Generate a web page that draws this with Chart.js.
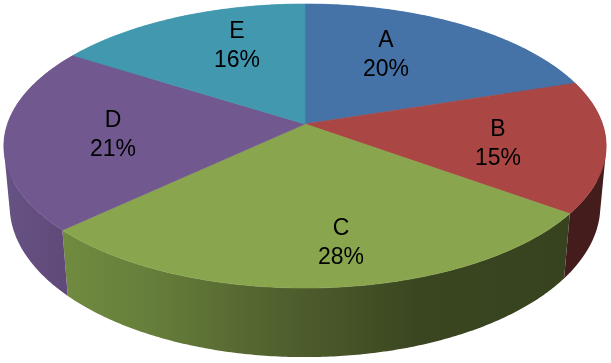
<!DOCTYPE html>
<html>
<head>
<meta charset="utf-8">
<script src="https://cdn.jsdelivr.net/npm/chart.js@4"></script>
<style>
body{margin:0;background:#fff;}
canvas{display:block;}
</style>
</head>
<body>
<canvas id="myChart" width="611" height="363"></canvas>
<script>
const categories = ["A","B","C","D","E"];
const values = [20,15,28,21,16];
const topColors = ["#4572a7","#aa4643","#89a54e","#71588f","#4198af"];

// where each label sits, in pixels of the picture
const labelSpots = [[386,55],[498,144],[341,243],[113,135],[237,46]];

// perspective of the pie, top face and bottom edge
const topRing = {cx:305,cy:124,a:297.5,b:138.6,k:0.155};
const bottomRing = {cx:305,cy:183,a:292,b:148,k:0.15};

function project(ring,angle){
    // chart.js angles start at 3 o'clock, the ring is a tilted circle
    const x = Math.cos(angle);
    const y = -Math.sin(angle);
    const w = 1 + ring.k*y;
    return [ring.cx + ring.a*x/w, ring.cy - ring.b*y/w];
}

function arcPoints(ring,start,end){
    const pts = [];
    const steps = Math.ceil((end-start)/0.01);
    for(let i=0;i<=steps;i++){
        pts.push(project(ring,start+(end-start)*i/steps));
    }
    return pts;
}

function wallFill(ctx,i){
    if(i===1) return "#431c1b";
    if(i===3){
        const g = ctx.createLinearGradient(5,0,70,0);
        g.addColorStop(0,"#675285");
        g.addColorStop(1,"#5e4978");
        return g;
    }
    if(i===2){
        const g = ctx.createLinearGradient(65,0,570,0);
        g.addColorStop(0,"#708b40");
        g.addColorStop(0.17,"#667e3a");
        g.addColorStop(0.27,"#5e7236");
        g.addColorStop(0.47,"#4d5c2c");
        g.addColorStop(0.7,"#3a4620");
        g.addColorStop(1,"#37431f");
        return g;
    }
    return topColors[i];
}

// signed area, so every quad of a wall can wind the same way
function area(q){
    let s = 0;
    q.forEach((p,n)=>{
        const r = q[(n+1)%q.length];
        s += p[0]*r[1]-r[0]*p[1];
    });
    return s;
}

const pie3d = {
    id:"pie3d",
    beforeDatasetDraw(chart){
        const ctx = chart.ctx;
        const arcs = chart.getDatasetMeta(0).data;
        // side walls first, the top face covers the hidden ones
        arcs.forEach((arc,i)=>{
            const upper = arcPoints(topRing,arc.startAngle,arc.endAngle);
            const lower = arcPoints(bottomRing,arc.startAngle,arc.endAngle);
            ctx.beginPath();
            for(let n=0;n<upper.length-1;n++){
                let q = [upper[n],upper[n+1],lower[n+1],lower[n]];
                if(area(q)<0) q = q.reverse();
                q.forEach((p,m)=> m ? ctx.lineTo(p[0],p[1]) : ctx.moveTo(p[0],p[1]));
                ctx.closePath();
            }
            ctx.fillStyle = wallFill(ctx,i);
            ctx.fill();
        });
        arcs.forEach((arc,i)=>{
            ctx.beginPath();
            ctx.moveTo(topRing.cx,topRing.cy);
            arcPoints(topRing,arc.startAngle,arc.endAngle).forEach(p=>ctx.lineTo(p[0],p[1]));
            ctx.closePath();
            ctx.fillStyle = topColors[i];
            ctx.strokeStyle = topColors[i];
            ctx.lineWidth = 0.6;
            ctx.fill();
            ctx.stroke();
        });
        return false;
    },
    afterDatasetsDraw(chart){
        const ctx = chart.ctx;
        const total = values.reduce((a,b)=>a+b,0);
        ctx.fillStyle = "#000";
        ctx.font = "23px 'Liberation Sans'";
        ctx.textAlign = "center";
        ctx.textBaseline = "middle";
        categories.forEach((name,i)=>{
            const pct = Math.round(values[i]/total*100)+"%";
            ctx.fillText(name,labelSpots[i][0],labelSpots[i][1]-14);
            ctx.fillText(pct,labelSpots[i][0],labelSpots[i][1]+15);
        });
    }
};

var result = new Chart(document.getElementById('myChart').getContext('2d'),{
    type:'pie',
    data:{
        labels:categories,
        datasets:[{data:values,backgroundColor:topColors,borderWidth:0}]
    },
    options:{
        responsive:false,
        animation:false,
        plugins:{legend:{display:false},tooltip:{enabled:false}}
    },
    plugins:[pie3d]
});
</script>
</body>
</html>
